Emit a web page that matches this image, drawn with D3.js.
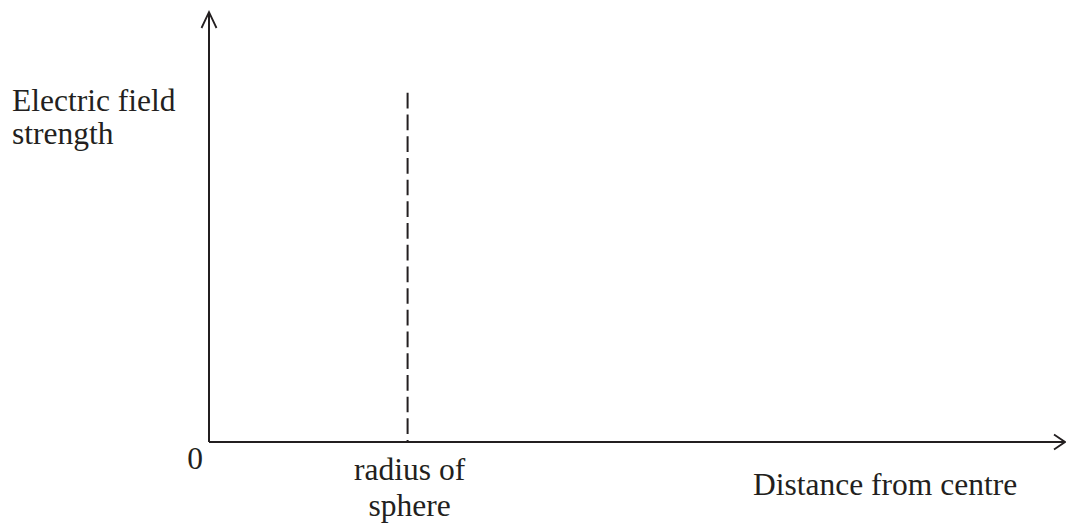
<!DOCTYPE html>
<html>
<head>
<meta charset="utf-8">
<script src="https://cdn.jsdelivr.net/npm/d3@7"></script>
<style>
  html, body { margin: 0; padding: 0; background: #fff; }
  svg { display: block; }
  text { font-family: "Liberation Serif", "Times New Roman", serif; fill: #231f20; }
</style>
</head>
<body>
<svg id="chart" width="1066" height="523"></svg>
<script>
// ---- data (schematic) ----
const xDomain = [0, 1];               // distance from centre (arbitrary units)
const yDomain = [0, 1];               // electric field strength (arbitrary units)
const sphereRadius = [0.232];         // position of the sphere surface
const radiusLineTop = [0.812];        // top of the dashed marker line
const originLabel = ["0"];
const yAxisLabel = ["Electric field", "strength"];
const xAxisLabel = ["Distance from centre"];
const radiusLabel = ["radius of", "sphere"];

// ---- layout ----
const x0 = 209, x1 = 1065, y0 = 442, y1 = 12;
const ink = "#231f20";

const svg = d3.select("#chart");
const x = d3.scaleLinear().domain(xDomain).range([x0, x1]);
const y = d3.scaleLinear().domain(yDomain).range([y0, y1]);

// axes lines
const g = svg.append("g").attr("stroke", ink).attr("fill", "none").attr("stroke-width", 2);
g.append("line")
  .attr("x1", x(xDomain[0])).attr("y1", y(yDomain[0]))
  .attr("x2", x(xDomain[0])).attr("y2", y(yDomain[1]));
g.append("line")
  .attr("x1", x(xDomain[0])).attr("y1", y(yDomain[0]))
  .attr("x2", x(xDomain[1])).attr("y2", y(yDomain[0]));

// open arrowheads
const ax = x(xDomain[0]), ay = y(yDomain[1]);
g.append("path")
  .attr("stroke-width", 1.8)
  .attr("d", d3.line()([[ax - 7.5, ay + 16], [ax, ay], [ax + 7.5, ay + 16]]));
const bx = x(xDomain[1]), by = y(yDomain[0]);
g.append("path")
  .attr("stroke-width", 1.8)
  .attr("d", d3.line()([[bx - 11, by - 7.5], [bx, by], [bx - 11, by + 7.5]]));

// dashed radius marker
svg.selectAll("line.radius")
  .data(sphereRadius)
  .join("line")
  .attr("class", "radius")
  .attr("x1", d => x(d)).attr("x2", d => x(d))
  .attr("y1", y(radiusLineTop[0])).attr("y2", y(yDomain[0]))
  .attr("stroke", ink)
  .attr("stroke-width", 2)
  .attr("stroke-dasharray", "15.7,6");

// texts
const fs = 31.5;
svg.append("text")
  .attr("x", x(xDomain[0]) - 14).attr("y", 469)
  .attr("text-anchor", "middle")
  .attr("font-size", fs)
  .text(originLabel[0]);

svg.append("g").selectAll("text")
  .data(yAxisLabel)
  .join("text")
  .attr("x", 12)
  .attr("y", (d, i) => 111 + i * 33)
  .attr("font-size", fs)
  .text(d => d);

svg.append("g").selectAll("text")
  .data(radiusLabel)
  .join("text")
  .attr("x", x(sphereRadius[0]) + 2)
  .attr("y", (d, i) => 480 + i * 36)
  .attr("text-anchor", "middle")
  .attr("font-size", fs)
  .text(d => d);

svg.append("text")
  .attr("x", 753).attr("y", 495)
  .attr("font-size", fs)
  .text(xAxisLabel[0]);
</script>
</body>
</html>
